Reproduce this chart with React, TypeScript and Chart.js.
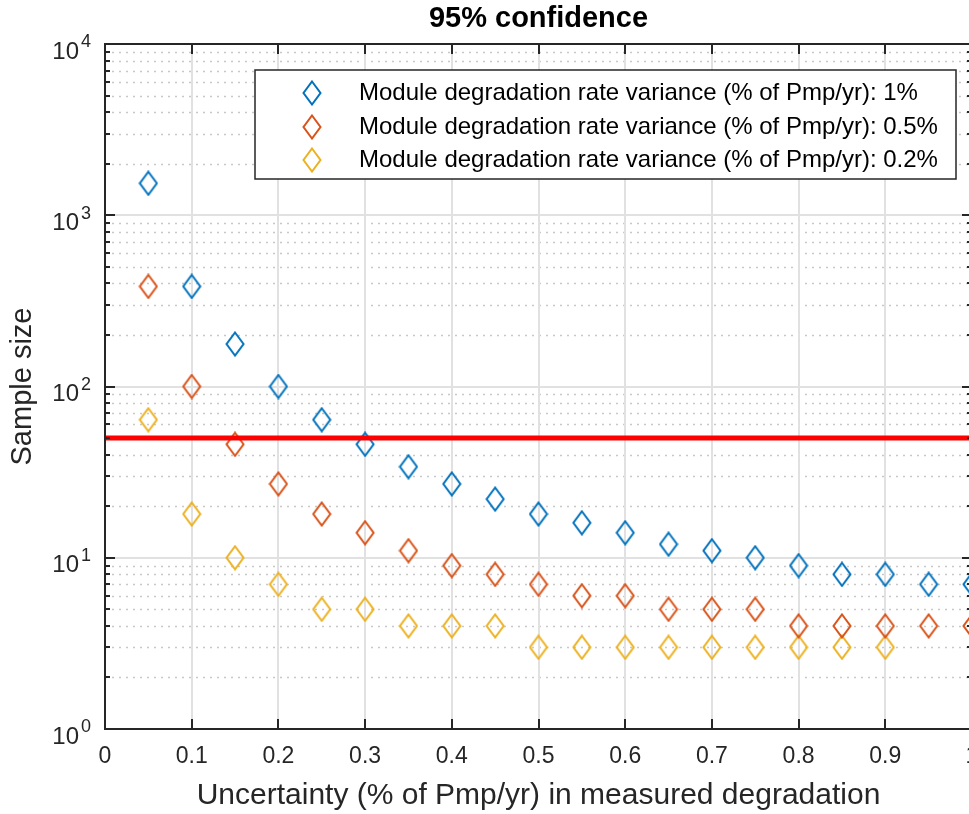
import React, { useEffect, useRef } from 'react';
import { Chart, registerables } from 'chart.js';

Chart.register(...registerables);

// ---------------- data ----------------
const uncertainty = [0.05, 0.1, 0.15, 0.2, 0.25, 0.3, 0.35, 0.4, 0.45, 0.5, 0.55, 0.6, 0.65, 0.7, 0.75, 0.8, 0.85, 0.9, 0.95, 1.0];
const sampleVar1 = [1537, 384, 177, 100, 64, 46, 34, 27, 22, 18, 16, 14, 12, 11, 10, 9, 8, 8, 7, 7];
const sampleVar05 = [384, 100, 46, 27, 18, 14, 11, 9, 8, 7, 6, 6, 5, 5, 5, 4, 4, 4, 4, 4];
const sampleVar02 = [64, 18, 10, 7, 5, 5, 4, 4, 4, 3, 3, 3, 3, 3, 3, 3, 3, 3];
const thresholdLine = 50;
const seriesLabels = [
  'Module degradation rate variance (% of Pmp/yr): 1%',
  'Module degradation rate variance (% of Pmp/yr): 0.5%',
  'Module degradation rate variance (% of Pmp/yr): 0.2%',
];
const seriesColors = ['#0072BD', '#D95319', '#EDB120'];
const xTickValues = [0, 0.1, 0.2, 0.3, 0.4, 0.5, 0.6, 0.7, 0.8, 0.9, 1];
const yDecades = [1, 10, 100, 1000, 10000];
const yExponents = ['0', '1', '2', '3', '4'];
const titleText = '95% confidence';
const xTitle = 'Uncertainty (% of Pmp/yr) in measured degradation';
const yTitle = 'Sample size';

const FONT = "'Liberation Sans', Arial, Helvetica, sans-serif";
const AXIS = '#262626';

function makeDiamond(color: string): HTMLCanvasElement {
  const c = document.createElement('canvas');
  const w = 20, h = 26;
  c.width = w; c.height = h;
  const g = c.getContext('2d')!;
  g.strokeStyle = color;
  g.lineWidth = 2;
  g.lineJoin = 'miter';
  g.beginPath();
  g.moveTo(w / 2, 1.5);
  g.lineTo(w - 1.5, h / 2);
  g.lineTo(w / 2, h - 1.5);
  g.lineTo(1.5, h / 2);
  g.closePath();
  g.stroke();
  return c;
}

export default function App() {
  const ref = useRef<HTMLCanvasElement>(null);

  useEffect(() => {
    document.body.style.margin = '0';
    document.body.style.overflow = 'hidden';
    const canvas = ref.current!;
    const markers = seriesColors.map(makeDiamond);

    const series = [sampleVar1, sampleVar05, sampleVar02];

    const matlabPlugin = {
      id: 'matlabStyle',
      beforeDatasetsDraw(chart: any) {
        const { ctx, chartArea: a, scales } = chart;
        const x = scales.x, y = scales.y;
        ctx.save();
        // minor dotted y grid
        ctx.strokeStyle = '#c8c8c8';
        ctx.lineWidth = 1.5;
        ctx.setLineDash([2, 5]);
        for (const d of yDecades.slice(0, 4)) {
          for (let m = 2; m <= 9; m++) {
            const py = Math.round(y.getPixelForValue(d * m)) + 0.5;
            ctx.beginPath();
            ctx.moveTo(a.left, py);
            ctx.lineTo(a.right, py);
            ctx.stroke();
          }
        }
        // major grid
        ctx.setLineDash([]);
        ctx.strokeStyle = '#e1e1e1';
        ctx.lineWidth = 2;
        for (const d of yDecades.slice(1, 4)) {
          const py = Math.round(y.getPixelForValue(d));
          ctx.beginPath();
          ctx.moveTo(a.left, py);
          ctx.lineTo(a.right, py);
          ctx.stroke();
        }
        for (const v of xTickValues.slice(1, -1)) {
          const px = Math.round(x.getPixelForValue(v));
          ctx.beginPath();
          ctx.moveTo(px, a.top);
          ctx.lineTo(px, a.bottom);
          ctx.stroke();
        }
        ctx.restore();
      },
      afterDatasetsDraw(chart: any) {
        const { ctx, chartArea: a, scales } = chart;
        const x = scales.x, y = scales.y;
        ctx.save();
        ctx.strokeStyle = AXIS;
        ctx.lineWidth = 2;
        ctx.setLineDash([]);
        // box
        ctx.strokeRect(a.left, a.top, a.right - a.left, a.bottom - a.top);
        // y ticks (left and right, inward)
        for (const d of yDecades) {
          for (let m = 1; m <= 9; m++) {
            const v = d * m;
            if (v > 10000) break;
            const len = m === 1 ? 10 : 5;
            const py = Math.round(y.getPixelForValue(v));
            ctx.beginPath();
            ctx.moveTo(a.left, py); ctx.lineTo(a.left + len, py);
            ctx.moveTo(a.right, py); ctx.lineTo(a.right - len, py);
            ctx.stroke();
          }
        }
        // x ticks (bottom and top, inward)
        for (const v of xTickValues) {
          const px = Math.round(x.getPixelForValue(v));
          ctx.beginPath();
          ctx.moveTo(px, a.bottom); ctx.lineTo(px, a.bottom - 10);
          ctx.moveTo(px, a.top); ctx.lineTo(px, a.top + 10);
          ctx.stroke();
        }
        ctx.restore();
      },
      afterDraw(chart: any) {
        const { ctx, chartArea: a, scales } = chart;
        const y = scales.y;
        ctx.save();
        // y tick labels with superscripts
        ctx.fillStyle = AXIS;
        yDecades.forEach((d, i) => {
          const py = y.getPixelForValue(d);
          ctx.font = `24px ${FONT}`;
          ctx.textAlign = 'right';
          ctx.textBaseline = 'middle';
          ctx.fillText('10', 79, py + 8);
          ctx.font = `18px ${FONT}`;
          ctx.textAlign = 'left';
          ctx.fillText(yExponents[i], 81, py - 1.5);
        });
        // title
        ctx.fillStyle = '#000000';
        ctx.font = `bold 29px ${FONT}`;
        ctx.textAlign = 'center';
        ctx.textBaseline = 'middle';
        ctx.fillText(titleText, (a.left + a.right) / 2, 19);
        // legend
        const lx = 255, ly = 70, lw = 701, lh = 109;
        ctx.fillStyle = '#ffffff';
        ctx.fillRect(lx, ly, lw, lh);
        ctx.strokeStyle = AXIS;
        ctx.lineWidth = 1.5;
        ctx.strokeRect(lx, ly, lw, lh);
        const rows = [93, 127, 160];
        ctx.font = `24px ${FONT}`;
        ctx.fillStyle = '#000000';
        ctx.textAlign = 'left';
        ctx.textBaseline = 'middle';
        seriesLabels.forEach((lab, i) => {
          ctx.drawImage(markers[i], 312 - 10, rows[i] - 13);
          ctx.fillText(lab, 359, rows[i]);
        });
        ctx.restore();
      },
    };

    const chart = new Chart(canvas, {
      type: 'scatter',
      data: {
        datasets: [
          {
            type: 'line',
            label: 'threshold',
            data: [{ x: 0, y: thresholdLine }, { x: 1, y: thresholdLine }],
            borderColor: '#ff0000',
            borderWidth: 5,
            pointRadius: 0,
            order: 0,
            showLine: true,
          } as any,
          ...series.map((s, i) => ({
            label: seriesLabels[i],
            data: s.map((v, j) => ({ x: uncertainty[j], y: v })),
            pointStyle: markers[i],
            pointRadius: 10,
            showLine: false,
            order: 1,
            clip: false,
            borderColor: seriesColors[i],
            backgroundColor: 'transparent',
          })),
        ],
      },
      options: {
        animation: false,
        responsive: false,
        events: [],
        layout: { padding: { left: 0, top: 44, right: 28, bottom: 0 } },
        plugins: {
          legend: { display: false },
          tooltip: { enabled: false },
          title: { display: false },
        },
        scales: {
          x: {
            type: 'linear',
            min: 0,
            max: 1,
            afterBuildTicks: (s: any) => { s.ticks = xTickValues.map((v) => ({ value: v })); },
            afterFit: (s: any) => { s.height = 85; },
            ticks: {
              color: AXIS,
              font: { family: FONT, size: 23 },
              padding: 14,
              maxRotation: 0,
              autoSkip: false,
              callback: (v: any) => String(Number(Number(v).toFixed(1))),
            },
            grid: { display: false, drawTicks: false },
            border: { display: false },
            title: {
              display: true,
              text: xTitle,
              color: AXIS,
              font: { family: FONT, size: 30 },
              padding: { top: 0, bottom: 0 },
            },
          },
          y: {
            type: 'logarithmic',
            min: 1,
            max: 10000,
            afterFit: (s: any) => { s.width = 105; },
            ticks: { display: false },
            grid: { display: false, drawTicks: false },
            border: { display: false },
            title: {
              display: true,
              text: yTitle,
              color: AXIS,
              font: { family: FONT, size: 29 },
              padding: { top: 6, bottom: 0 },
            },
          },
        },
      },
      plugins: [matlabPlugin],
    } as any);

    return () => chart.destroy();
  }, []);

  return (
    <div style={{ width: 969, height: 814, overflow: 'hidden', position: 'relative', background: '#ffffff' }}>
      <canvas ref={ref} width={1000} height={814} style={{ display: 'block' }} />
    </div>
  );
}
